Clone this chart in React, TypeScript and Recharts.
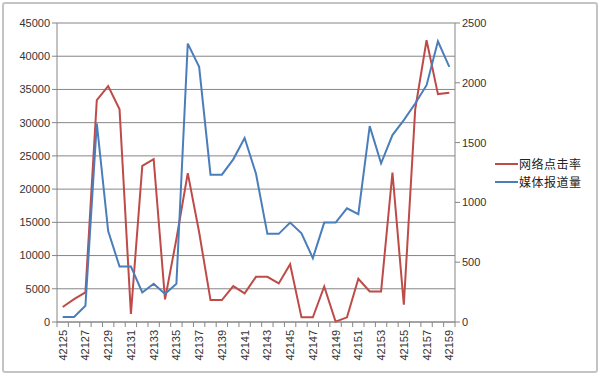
import { CartesianGrid, Line, LineChart, XAxis, YAxis } from "recharts";

const days = [
  "42125", "42126", "42127", "42128", "42129", "42130", "42131", "42132", "42133",
  "42134", "42135", "42136", "42137", "42138", "42139", "42140", "42141", "42142",
  "42143", "42144", "42145", "42146", "42147", "42148", "42149", "42150", "42151",
  "42152", "42153", "42154", "42155", "42156", "42157", "42158", "42159",
];

const clicks = [
  2250, 3450, 4450, 33400, 35500, 32000, 1200, 23500, 24500,
  3400, 12500, 22400, 13500, 3300, 3300, 5400, 4300, 6800,
  6800, 5800, 8700, 700, 700, 5350, 50, 700, 6500,
  4600, 4600, 22500, 2600, 32000, 42400, 34300, 34500,
];

const reports = [
  42, 42, 136, 1660, 760, 464, 464, 247, 320,
  234, 320, 2328, 2133, 1232, 1232, 1360, 1538, 1240,
  737, 737, 831, 742, 534, 831, 831, 951, 901,
  1638, 1327, 1563, 1688, 1827, 1980, 2347, 2133,
];

const leftTicks = [0, 5000, 10000, 15000, 20000, 25000, 30000, 35000, 40000, 45000];
const rightTicks = [0, 500, 1000, 1500, 2000, 2500];

const data = days.map((d, i) => ({ day: d, clicks: clicks[i], reports: reports[i] }));

const PLOT_W = 398;
const HALF = PLOT_W / days.length / 2;
const AXIS = "#868686";
const FONT = "'Liberation Sans', Arial, sans-serif";

function XTick(props: any) {
  const { x, y, payload, index } = props;
  const last = index === days.length - 1;
  return (
    <g>
      <line x1={x - HALF} x2={x - HALF} y1={y} y2={y + 5} stroke={AXIS} />
      {last && <line x1={x + HALF} x2={x + HALF} y1={y} y2={y + 5} stroke={AXIS} />}
      {index % 2 === 0 && (
        <text
          x={0}
          y={0}
          transform={`translate(${x + 4},${y + 8}) rotate(-90)`}
          textAnchor="end"
          fontSize={11}
          fontFamily={FONT}
          fill="#333"
        >
          {payload.value}
        </text>
      )}
    </g>
  );
}

export default function App() {
  return (
    <div style={{ position: "absolute", left: 0, top: 0, width: 600, height: 376 }}>
      <div
        style={{
          position: "absolute",
          left: 2,
          top: 2,
          width: 592,
          height: 367,
          border: "2px solid #c4c4c4",
          borderRadius: 3,
        }}
      />
      <LineChart
        width={600}
        height={376}
        data={data}
        margin={{ top: 23, left: 7, right: 95, bottom: 14 }}
      >
        <CartesianGrid yAxisId="left" vertical={false} stroke={AXIS} />
        <XAxis
          dataKey="day"
          interval={0}
          tick={<XTick />}
          tickLine={false}
          tickSize={0}
          tickMargin={0}
          height={40}
          padding={{ left: HALF, right: HALF }}
          stroke={AXIS}
        />
        <YAxis
          yAxisId="left"
          domain={[0, 45000]}
          ticks={leftTicks}
          width={50}
          tickSize={5}
          tickMargin={2}
          stroke={AXIS}
          tick={{ fill: "#333", fontSize: 11, fontFamily: FONT }}
        />
        <YAxis
          yAxisId="right"
          orientation="right"
          domain={[0, 2500]}
          ticks={rightTicks}
          width={50}
          tickSize={5}
          tickMargin={2}
          stroke={AXIS}
          tick={{ fill: "#333", fontSize: 11, fontFamily: FONT, textAnchor: "start" }}
        />
        <Line
          yAxisId="left"
          dataKey="clicks"
          stroke="#BE4B48"
          strokeWidth={2}
          dot={false}
          isAnimationActive={false}
        />
        <Line
          yAxisId="right"
          dataKey="reports"
          stroke="#4A7EBB"
          strokeWidth={2}
          dot={false}
          isAnimationActive={false}
        />
      </LineChart>
      <div
        style={{
          position: "absolute",
          left: 495,
          top: 155,
          fontFamily: "'Noto Sans CJK SC', sans-serif",
          fontSize: 12,
          lineHeight: "18px",
          color: "#222",
        }}
      >
        {[
          { name: "网络点击率", color: "#BE4B48" },
          { name: "媒体报道量", color: "#4A7EBB" },
        ].map((s) => (
          <div key={s.name} style={{ display: "flex", alignItems: "center", height: 18 }}>
            <span style={{ width: 23, height: 2, background: s.color, marginRight: 1 }} />
            <span style={{ letterSpacing: 0.5 }}>{s.name}</span>
          </div>
        ))}
      </div>
    </div>
  );
}
